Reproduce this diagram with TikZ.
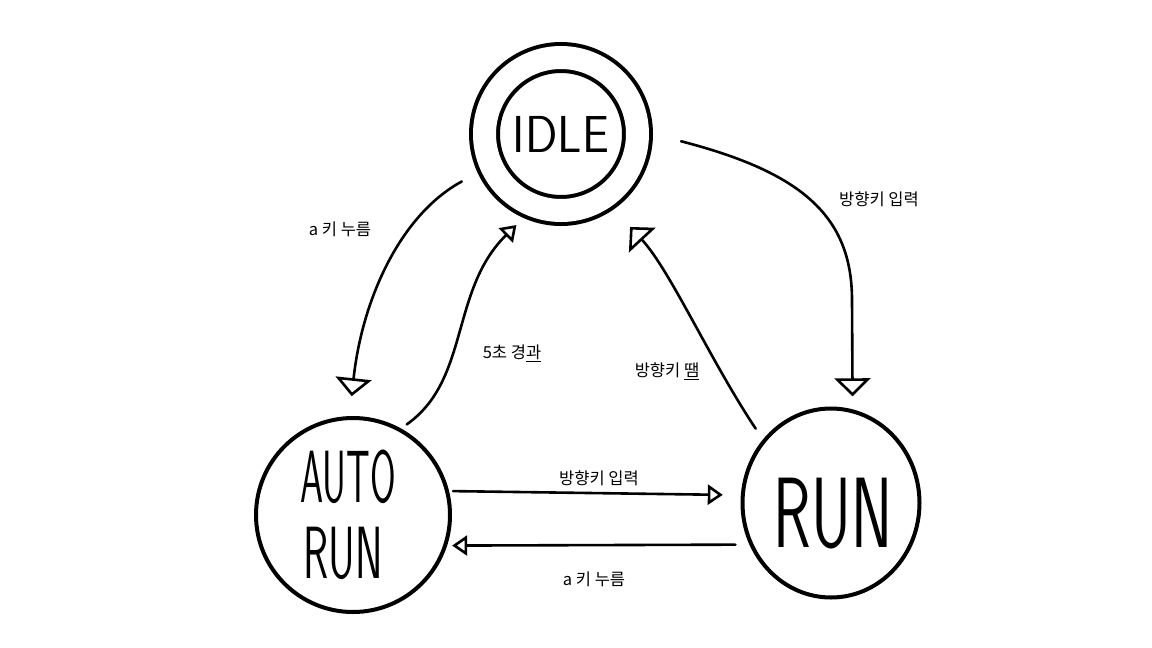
\documentclass[tikz,border=0pt]{standalone}
\usepackage{fontspec}
\usepackage{graphicx}
\newfontfamily\kr{Noto Sans CJK KR}
\usetikzlibrary{arrows.meta,shapes.geometric}
\begin{document}
\begin{tikzpicture}[x=1pt,y=-1pt,
  statecirc/.style={circle,draw,line width=4pt,inner sep=0pt,outer sep=2pt},
  hand/.style={font=\sffamily\fontsize{#1}{#1}\selectfont},
  conn/.style={line width=2.6pt,line cap=round},
  bigtip/.style={-{Triangle[open,length=18pt,width=36pt]}},
  smalltip/.style={-{Triangle[open,length=15pt,width=20pt]}},
  lbl/.style={font=\kr\fontsize{16.5}{18}\selectfont,inner sep=0pt}
]
\useasboundingbox (0,0) rectangle (1152,648);
\fill[white] (0,0) rectangle (1152,648);

% states
\node[statecirc,double,double distance=23pt,minimum size=153pt,outer sep=15.5pt,
      hand=52] (idle) at (561,134) {\scalebox{0.92}[1]{IDLE}};
\node[statecirc,minimum size=194pt,align=center,
      font=\sffamily\fontsize{74}{76}\selectfont] (auto) at (353,515)
      {\hspace*{-10pt}\scalebox{0.5}[1]{AUTO}\\\hspace*{-20pt}\scalebox{0.56}[1]{RUN}};
\node[ellipse,draw,line width=4pt,inner sep=0pt,outer sep=2pt,
      minimum width=177pt,minimum height=189pt,hand=100,
      text height=89pt,text depth=0pt] (run) at (831,503)
      {\hspace*{4pt}\scalebox{0.62}[1]{RUN}};

% connectors
\draw[conn,bigtip,shorten <=29pt,shorten >=13pt]
  (idle.east) .. controls (800,172) and (852,215) .. (852,300) -- (run.77);
\draw[conn,smalltip,shorten <=4pt,shorten >=18pt] (auto.14) -- (run.175);
\draw[conn,smalltip,shorten <=14pt,shorten >=5pt] (run.207) -- (auto.342);
\draw[conn,bigtip,shorten <=18pt,shorten >=20pt]
  (idle.205) .. controls (400,215) and (362,300) .. (auto.92);
\draw[conn,smalltip,shorten <=7pt,shorten >=10pt]
  (auto.61) .. controls (470,380) and (450,290) .. (idle.246);
\draw[conn,bigtip,shorten <=13pt,shorten >=24pt]
  (run.137) .. controls (710,360) and (670,270) .. (idle.-55);

% labels
\node[lbl] (l1) at (340,229) {a 키 누름};
\node[lbl] (l2) at (512,353) {5초 경\underline{과}};
\node[lbl] (l3) at (667,371) {방향키 \underline{땜}};
\node[lbl] (l4) at (879,199) {방향키 입력};
\node[lbl] (l5) at (599,478) {방향키 입력};
\node[lbl] (l6) at (594,579) {a 키 누름};
\end{tikzpicture}
\end{document}
